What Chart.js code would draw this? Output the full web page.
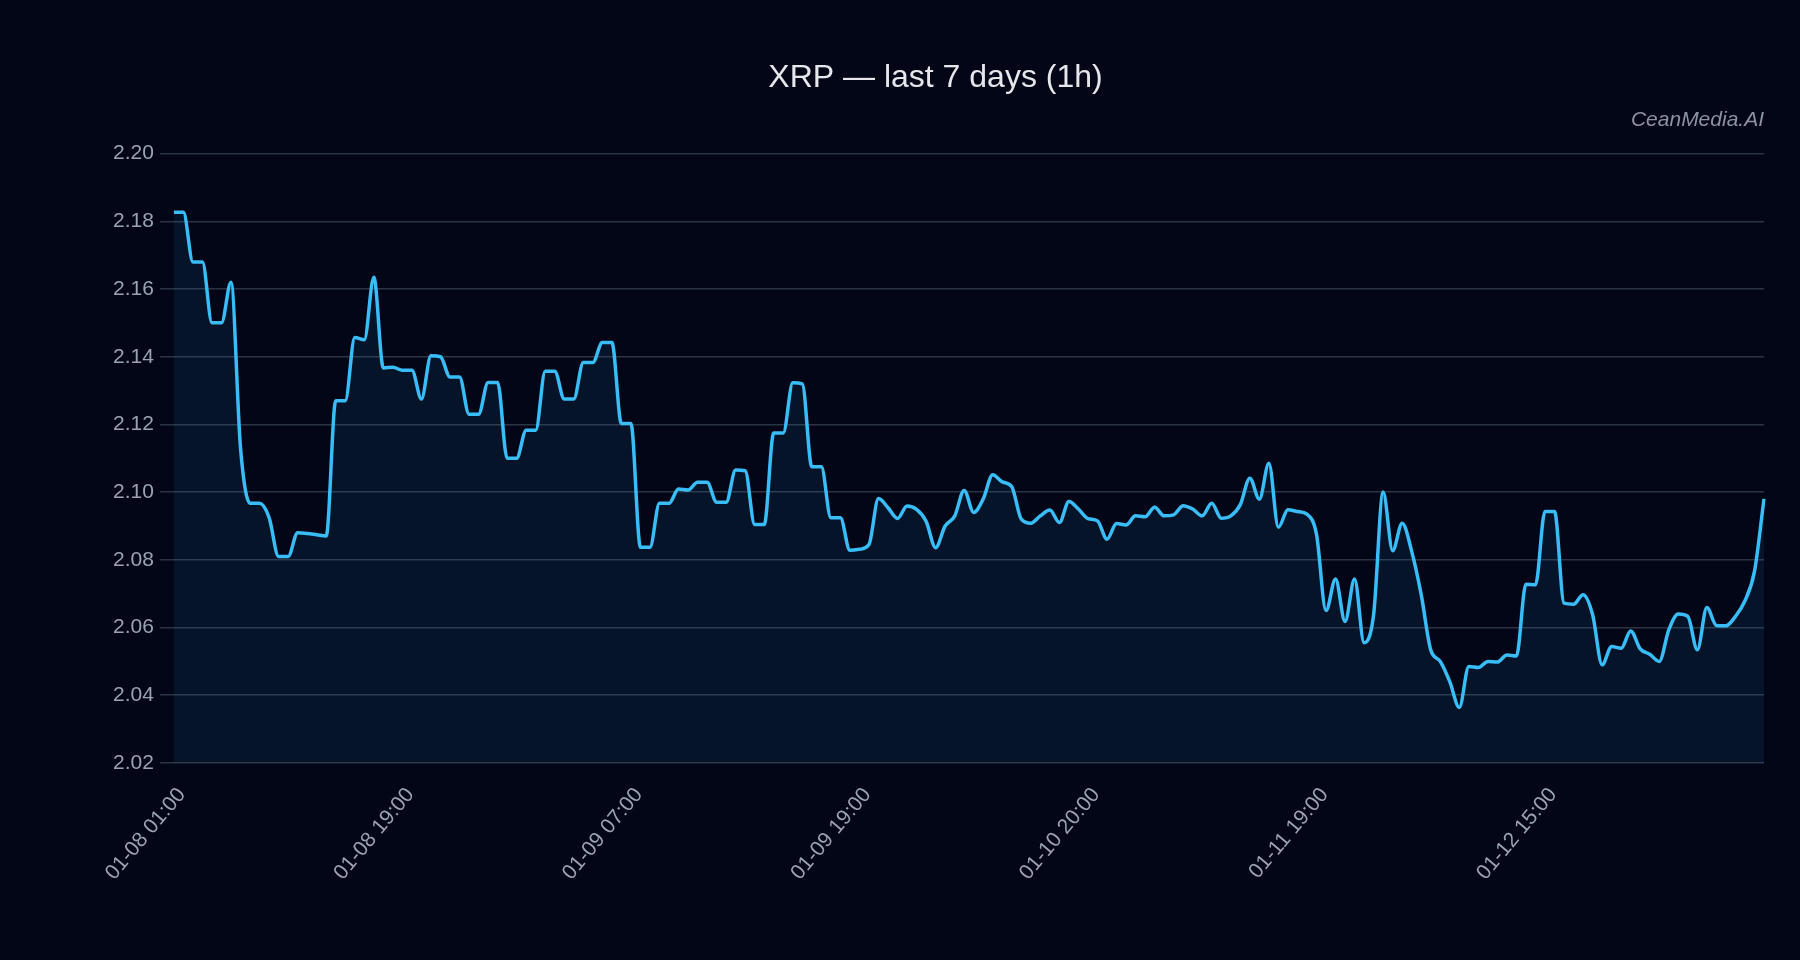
<!DOCTYPE html>
<html>
<head>
<meta charset="utf-8">
<title>XRP — last 7 days (1h)</title>
<script src="https://cdn.jsdelivr.net/npm/chart.js@4"></script>
<style>
  html, body { margin: 0; padding: 0; background: #020617; }
  #wrap { width: 1800px; height: 960px; position: relative; }
</style>
</head>
<body>
<div id="wrap"><canvas id="priceChart"></canvas></div>
<script>
// hourly closes, 168 points
const prices = [
  2.1827, 2.1827, 2.168, 2.168, 2.150, 2.150, 2.162, 2.113, 2.0967, 2.0967,
  2.0925, 2.081, 2.081, 2.088, 2.0878, 2.0874, 2.087, 2.127, 2.127, 2.1457,
  2.145, 2.1635, 2.1367, 2.1369, 2.136, 2.136, 2.1275, 2.1403, 2.140, 2.134,
  2.134, 2.123, 2.123, 2.1324, 2.1324, 2.110, 2.110, 2.1183, 2.1183, 2.1357,
  2.1357, 2.1275, 2.1275, 2.1383, 2.1383, 2.1442, 2.1442, 2.1203, 2.1203, 2.0837,
  2.0837, 2.0967, 2.0967, 2.1009, 2.1006, 2.1029, 2.1029, 2.097, 2.097, 2.1065,
  2.1063, 2.0904, 2.0904, 2.1175, 2.1175, 2.1323, 2.132, 2.1075, 2.1075, 2.0924,
  2.0924, 2.0828, 2.0831, 2.0845, 2.0981, 2.0954, 2.0922, 2.0959, 2.0949, 2.0914,
  2.0836, 2.090, 2.0929, 2.1005, 2.094, 2.098, 2.1051, 2.103, 2.1016, 2.092,
  2.0908, 2.093, 2.0947, 2.091, 2.0972, 2.095, 2.0922, 2.0915, 2.0861, 2.0907,
  2.0903, 2.093, 2.0927, 2.0955, 2.093, 2.0933, 2.096, 2.095, 2.093, 2.0967,
  2.0923, 2.093, 2.0963, 2.1041, 2.0979, 2.1085, 2.0896, 2.0948, 2.0943, 2.0935,
  2.0876, 2.065, 2.0743, 2.0618, 2.0743, 2.0555, 2.0638, 2.100, 2.0827, 2.0908,
  2.0825, 2.0697, 2.0534, 2.050, 2.044, 2.0364, 2.0485, 2.0482, 2.050, 2.0498,
  2.0519, 2.0516, 2.0728, 2.0726, 2.0943, 2.0943, 2.0672, 2.0669, 2.0697, 2.0638,
  2.049, 2.0544, 2.0539, 2.059, 2.0537, 2.0521, 2.050, 2.0593, 2.064, 2.0633,
  2.0534, 2.0659, 2.0606, 2.0605, 2.0633, 2.0679, 2.0766, 2.098
];

// x labels shown every 24 points
const tickLabels = ["01-08 01:00", "01-08 19:00", "01-09 07:00", "01-09 19:00",
                    "01-10 20:00", "01-11 19:00", "01-12 15:00"];
const tickEvery = 24;

const yMin = 2.02;
const yMax = 2.20;
const yStep = 0.02;

const labels = prices.map((p, i) => i);

const ctx = document.getElementById("priceChart");

new Chart(ctx, {
    type: "line",
    data: {
        labels: labels,
        datasets: [{
            label: "XRP",
            data: prices,
            borderColor: "#38bdf8",
            backgroundColor: "rgba(56, 189, 248, 0.08)",
            borderWidth: 3.5,
            pointRadius: 0,
            fill: "start",
            cubicInterpolationMode: "monotone"
        }]
    },
    options: {
        responsive: true,
        maintainAspectRatio: false,
        animation: false,
        layout: {
            padding: { top: 59, left: 107, right: 36, bottom: 63 }
        },
        plugins: {
            legend: { display: false },
            tooltip: { enabled: false },
            title: {
                display: true,
                text: "XRP — last 7 days (1h)",
                color: "#e5e7eb",
                font: { family: "Liberation Sans", size: 32, weight: "normal" },
                padding: { top: 0, bottom: 10 }
            },
            subtitle: {
                display: true,
                text: "CeanMedia.AI",
                align: "end",
                color: "#8b93a3",
                font: { family: "Liberation Sans", size: 21, style: "italic" },
                padding: { top: 0, bottom: 21 }
            }
        },
        scales: {
            x: {
                grid: { display: false },
                border: { display: false },
                ticks: {
                    autoSkip: false,
                    minRotation: 50,
                    maxRotation: 50,
                    padding: 12,
                    labelOffset: 8,
                    color: "#9aa3b2",
                    font: { family: "Liberation Sans", size: 21 },
                    callback: (v, i) => i % tickEvery === 0 ? tickLabels[i / tickEvery] : ""
                }
            },
            y: {
                min: yMin,
                max: yMax,
                border: { display: false },
                grid: {
                    color: "#2b3445",
                    lineWidth: 1.5,
                    tickLength: 14
                },
                ticks: {
                    stepSize: yStep,
                    padding: 6,
                    color: "#9aa3b2",
                    font: { family: "Liberation Sans", size: 21 },
                    callback: v => v.toFixed(2)
                }
            }
        }
    }
});
</script>
</body>
</html>
